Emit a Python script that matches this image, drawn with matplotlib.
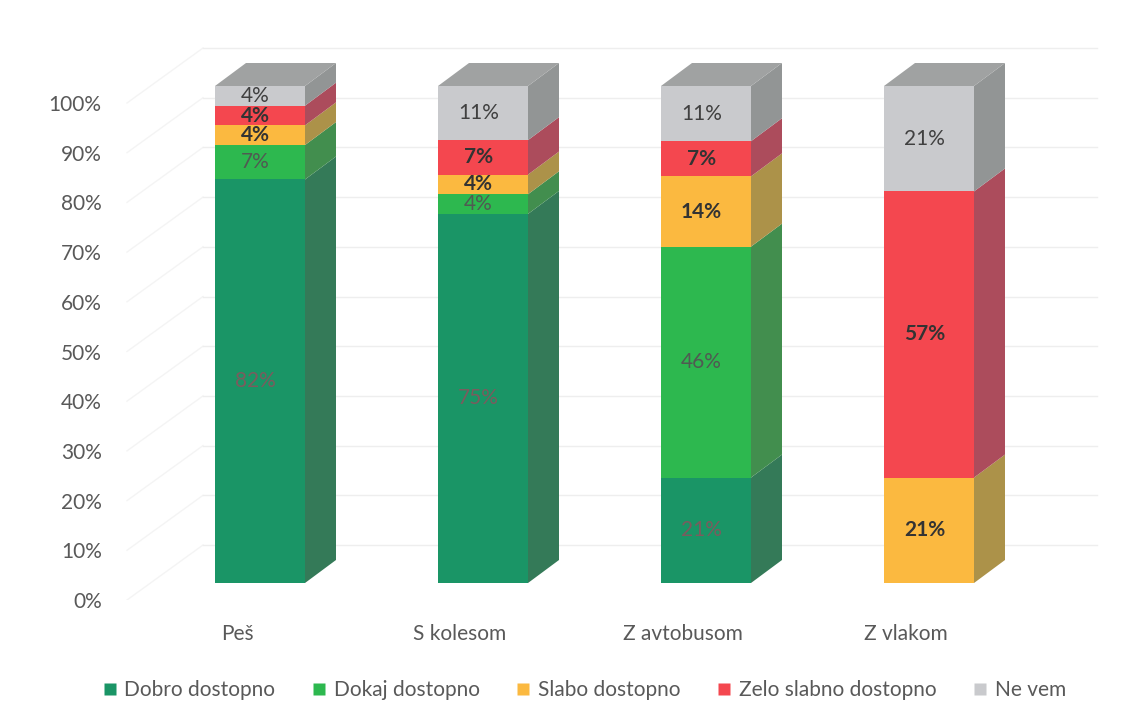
import matplotlib
matplotlib.use("Agg")
import matplotlib.pyplot as plt
from matplotlib.patches import Polygon, Rectangle
from matplotlib.lines import Line2D

categories = ["Peš", "S kolesom", "Z avtobusom", "Z vlakom"]
series_names = ["Dobro dostopno", "Dokaj dostopno", "Slabo dostopno",
                "Zelo slabno dostopno", "Ne vem"]
dobro = [82, 75, 21, 0]
dokaj = [7, 4, 46, 0]
slabo = [4, 4, 14, 21]
zelo_slabno = [4, 7, 7, 57]
ne_vem = [4, 11, 11, 21]
y_ticks = list(range(0, 101, 10))

front_colors = ["#1A9566", "#2DB84F", "#FBB940", "#F4474F", "#C9CACD"]
side_colors = ["#347A58", "#428E4E", "#AC9249", "#AC4C5C", "#929595"]
top_color = "#A0A2A2"
label_colors = ["#7A5C5E", "#505A52", "#333333", "#333333", "#404040"]
label_weights = ["normal", "normal", "bold", "bold", "normal"]

plt.rcParams["font.family"] = ["Lato", "DejaVu Sans"]

# pixel -> data conversions (x: category units, y: percent units)
px_x = 223.0
px_y = 4.97

bar_shift = 23 / px_x      # front face centre right of the label
half_w = 45 / px_x
depth_x = 31 / px_x
depth_y = 23 / px_y
bar_base = 17 / px_y
wall_front_x = (127 - 237) / px_x
wall_back_x = (203 - 237) / px_x
wall_right_x = (1097 - 237) / px_x
wall_dy = 55 / px_y

fig = plt.figure(figsize=(11.4, 7.21), dpi=100)
ax = fig.add_axes([110 / 1140, 1 - 600 / 721, 1010 / 1140, 572 / 721])
ax.set_xlim((110 - 237) / px_x, (1120 - 237) / px_x)
ax.set_ylim(0, 572 / px_y)

# gridlines: left wall (diagonal) and back wall (horizontal)
for t in y_ticks:
    ax.plot([wall_front_x, wall_back_x], [t, t + wall_dy], color="#F4F4F4", lw=1, zorder=0)
    ax.plot([wall_back_x, wall_right_x], [t + wall_dy, t + wall_dy], color="#EEEEEE", lw=1, zorder=0)

series = [dobro, dokaj, slabo, zelo_slabno, ne_vem]
for i, cat in enumerate(categories):
    vals = [s[i] for s in series]
    total = sum(vals)
    xc = i + bar_shift
    xl, xr = xc - half_w, xc + half_w
    b = bar_base
    for j, v in enumerate(vals):
        if v == 0:
            continue
        h = v / total * 100
        ax.add_patch(Rectangle((xl, b), xr - xl, h, facecolor=front_colors[j],
                               edgecolor="none", zorder=3))
        ax.add_patch(Polygon([(xr, b), (xr + depth_x, b + depth_y),
                              (xr + depth_x, b + h + depth_y), (xr, b + h)],
                             closed=True, facecolor=side_colors[j], edgecolor="none", zorder=2))
        ax.text(xc - 0.02, b + h / 2, f"{v}%", ha="center", va="center", fontsize=15,
                color=label_colors[j], fontweight=label_weights[j], zorder=5)
        b += h
    ax.add_patch(Polygon([(xl, b), (xr, b), (xr + depth_x, b + depth_y),
                          (xl + depth_x, b + depth_y)],
                         closed=True, facecolor=top_color, edgecolor="none", zorder=2))

ax.set_yticks(y_ticks)
ax.set_yticklabels([f"{t}%" for t in y_ticks])
ax.set_xticks(range(len(categories)))
ax.set_xticklabels(categories)
ax.tick_params(axis="y", length=0, pad=6, labelsize=15, labelcolor="#595959")
ax.tick_params(axis="x", length=0, pad=17, labelsize=15, labelcolor="#595959")
for sp in ax.spines.values():
    sp.set_visible(False)

handles = [Line2D([], [], marker="s", linestyle="none", markersize=9,
                  markerfacecolor=c, markeredgecolor="none") for c in front_colors]
fig.legend(handles, series_names, loc="center", bbox_to_anchor=(0.513, 0.043),
           ncol=5, frameon=False, fontsize=15, handlelength=0.6, handletextpad=0.4,
           columnspacing=1.8, labelcolor="#595959")

fig.savefig("out.png", dpi=100, facecolor="white")
